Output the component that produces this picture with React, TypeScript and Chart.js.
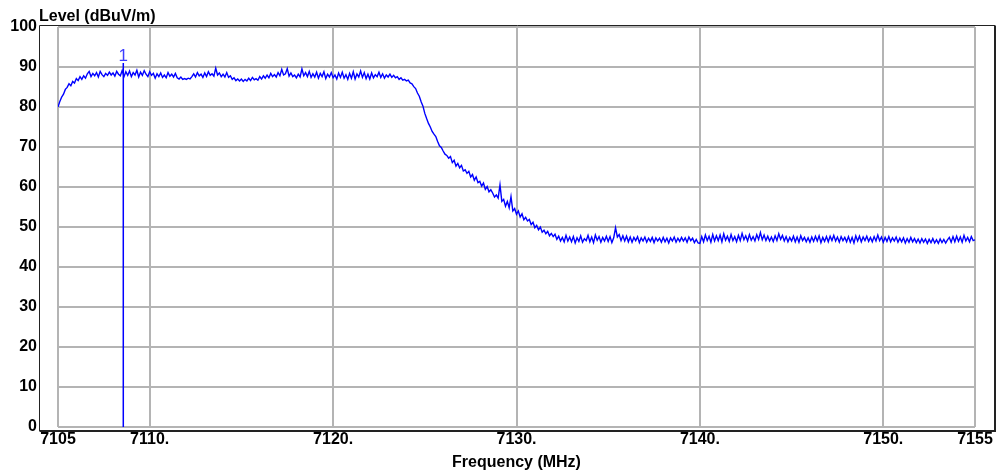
import React, { useEffect, useRef } from "react";
import { Chart, registerables } from "chart.js";

Chart.register(...registerables);

// Sweep definition (MHz)
const FREQ_START = 7105;
const FREQ_STEP = 0.1;

// Measured level (dBuV/m), one value every 0.1 MHz from 7105 to 7155 (one row per MHz)
const LEVELS: number[] = [
  80.0, 81.4, 82.5, 83.2, 84.4, 84.9, 85.8, 85.3, 86.4, 86.0,
  87.1, 86.6, 87.6, 86.9, 87.8, 87.2, 88.3, 88.9, 87.6, 88.4,
  87.8, 88.6, 87.5, 88.9, 88.1, 87.6, 88.4, 87.9, 88.7, 88.0,
  88.5, 87.7, 88.9, 88.2, 87.8, 89.1, 87.6, 88.8, 87.9, 89.0,
  87.6, 88.6, 88.0, 89.2, 87.5, 88.7, 87.9, 89.1, 88.2, 87.6,
  88.8, 87.9, 88.4, 87.2, 88.3, 87.6, 88.5, 87.4, 88.0, 87.3,
  88.6, 87.7, 88.2, 87.5, 88.4, 87.3, 87.0, 87.5, 86.9, 87.1,
  86.9, 87.2, 87.0, 87.6, 88.3, 87.5, 88.6, 87.8, 88.2, 87.4,
  88.5, 87.6, 88.8, 87.9, 88.3, 87.7, 89.7, 88.0, 88.5, 87.6,
  88.2, 87.5, 88.6, 87.4, 87.8, 86.9, 87.3, 86.6, 87.0, 86.5,
  87.0, 86.4, 86.9, 86.5, 87.2, 86.6, 87.4, 86.8, 87.1, 86.7,
  87.6, 87.0, 87.8, 87.2, 88.0, 87.3, 88.4, 87.6, 88.1, 87.5,
  88.6, 87.8, 89.4, 88.0, 88.3, 89.6, 87.7, 88.5, 87.6, 88.0,
  87.3, 88.2, 87.5, 89.5, 87.8, 88.6, 87.6, 88.9, 87.4, 88.3,
  87.5, 88.7, 87.2, 88.4, 87.6, 88.8, 87.1, 88.2, 87.5, 88.6,
  87.3, 88.0, 87.0, 88.5, 87.4, 88.7, 87.2, 88.1, 86.9, 88.4,
  87.2, 88.8, 87.0, 88.3, 87.5, 89.0, 87.4, 88.6, 87.1, 88.2,
  87.0, 88.5, 87.3, 88.1, 87.6, 88.7, 87.4, 88.3, 87.2, 88.0,
  87.5, 88.2, 87.4, 87.9, 87.3, 87.6, 86.9, 87.3, 86.7, 86.9,
  86.5, 86.7, 86.0, 85.8, 85.1, 84.6, 83.5, 82.7, 81.3, 80.2,
  78.4, 77.1, 75.9, 75.0, 73.9, 73.2, 72.6, 71.4, 70.3, 69.9,
  69.0, 68.2, 67.9, 67.2, 67.6, 66.1, 66.7, 65.2, 65.9, 64.8,
  65.4, 64.0, 64.3, 63.4, 63.9, 62.5, 63.1, 61.7, 62.5, 61.1,
  61.4, 60.2, 61.0, 59.4, 60.1, 58.8, 59.3, 58.5, 57.5, 58.0,
  57.2, 60.5, 56.4, 56.9, 55.2, 56.4, 54.8, 57.6, 54.0, 54.6,
  53.2, 54.0, 52.5, 53.3, 51.8, 52.4, 51.5, 51.9, 50.6, 51.2,
  49.8, 50.4, 49.3, 50.0, 48.7, 49.2, 48.3, 48.9, 47.8, 48.4,
  47.6, 48.2, 46.9, 47.7, 46.5, 47.4, 46.3, 47.9, 46.5, 47.5,
  46.3, 47.6, 46.0, 47.3, 46.4, 47.8, 46.2, 47.1, 46.6, 47.9,
  46.3, 47.5, 46.1, 48.0, 46.7, 47.6, 46.2, 47.4, 46.5, 47.7,
  46.4, 47.6, 46.1, 47.3, 49.8, 47.5, 48.1, 46.6, 47.8, 46.5,
  47.7, 46.3, 47.5, 46.2, 47.4, 46.6, 47.6, 46.1, 47.3, 46.5,
  47.5, 46.2, 47.2, 46.4, 47.4, 46.1, 47.3, 46.5, 47.2, 46.2,
  47.4, 46.3, 47.2, 46.0, 47.3, 46.5, 47.5, 46.2, 47.2, 46.4,
  47.4, 46.5, 47.3, 46.2, 47.5, 46.6, 47.2, 46.1, 46.9, 46.0,
  45.9, 47.6, 46.3, 48.0, 46.6, 47.7, 46.2, 48.1, 46.5, 47.8,
  46.6, 48.0, 46.3, 48.3, 46.7, 47.7, 46.4, 48.1, 46.6, 47.6,
  46.3, 47.9, 46.6, 48.4, 46.8, 47.8, 46.5, 48.1, 46.7, 47.6,
  46.5, 48.1, 46.9, 48.6, 46.8, 48.0, 46.6, 47.7, 46.5, 47.5,
  46.4, 47.8, 46.6, 48.3, 46.9, 47.9, 46.5, 47.6, 46.3, 47.4,
  46.5, 47.7, 46.3, 47.5, 46.2, 47.8, 46.6, 47.4, 46.3, 47.3,
  46.2, 47.5, 46.4, 47.7, 46.5, 47.8, 46.1, 47.4, 46.4, 47.6,
  46.3, 47.7, 46.6, 47.9, 46.5, 47.5, 46.2, 47.6, 46.6, 47.4,
  46.3, 47.6, 46.2, 47.4, 46.0, 47.8, 46.5, 47.7, 46.3, 47.5,
  46.6, 47.7, 46.4, 47.4, 46.3, 47.6, 46.5, 48.0, 46.6, 47.5,
  46.2, 47.4, 46.4, 47.6, 46.3, 47.3, 46.5, 47.5, 46.2, 47.2,
  46.3, 47.3, 46.0, 47.1, 46.2, 47.4, 46.3, 47.1, 46.1, 47.0,
  46.0, 47.1, 46.2, 47.0, 45.9, 46.9, 46.1, 47.1, 46.0, 46.8,
  45.9, 47.0, 46.1, 46.9, 46.0, 46.8, 47.4, 46.2, 47.6, 46.3,
  47.7, 46.4, 47.5, 46.2, 47.9, 46.5, 47.4, 46.3, 47.6, 46.6,
  46.8,
];

// Axis ticks
const X_TICK_VALUES = [7105, 7110, 7120, 7130, 7140, 7150, 7155];
const X_TICK_LABELS = ["7105", "7110.", "7120.", "7130.", "7140.", "7150.", "7155"];
const X_MIN = 7105;
const X_MAX = 7155;
const Y_MIN = 0;
const Y_MAX = 100;
const Y_STEP = 10;

// Marker 1
const MARKER_LABEL = "1";
const MARKER_FREQ = 7108.56;
const MARKER_TOP = 91;

const Y_TITLE = "Level (dBuV/m)";
const X_TITLE = "Frequency (MHz)";

const FONT = "'Liberation Sans', Arial, sans-serif";

export default function App() {
  const ref = useRef<HTMLCanvasElement | null>(null);

  useEffect(() => {
    if (!ref.current) return;
    const traceData = LEVELS.map((v, i) => ({ x: FREQ_START + i * FREQ_STEP, y: v }));
    const markerData = [
      { x: MARKER_FREQ, y: Y_MIN },
      { x: MARKER_FREQ, y: MARKER_TOP },
    ];

    const framePlugin = {
      id: "framePlugin",
      afterDraw(chart: any) {
        const { ctx } = chart;
        const xs = chart.scales.x;
        const ys = chart.scales.y;
        ctx.save();
        // outer frame
        ctx.strokeStyle = "#222222";
        ctx.lineWidth = 1;
        ctx.beginPath();
        ctx.moveTo(39.5, 431);
        ctx.lineTo(39.5, 25.5);
        ctx.lineTo(995, 25.5);
        ctx.stroke();
        ctx.lineWidth = 2;
        ctx.beginPath();
        ctx.moveTo(39.5, 431);
        ctx.lineTo(995, 431);
        ctx.lineTo(995, 25.5);
        ctx.stroke();
        // y title
        ctx.fillStyle = "#000000";
        ctx.font = `bold 16px ${FONT}`;
        ctx.textAlign = "left";
        ctx.textBaseline = "alphabetic";
        ctx.fillText(Y_TITLE, 39, 21);
        // marker label
        ctx.fillStyle = "#3c3cff";
        ctx.font = `17px ${FONT}`;
        ctx.textAlign = "center";
        const mx = xs.getPixelForValue(MARKER_FREQ);
        const my = ys.getPixelForValue(MARKER_TOP);
        ctx.fillText(MARKER_LABEL, mx, my - 2);
        ctx.restore();
      },
    };

    const chart = new Chart(ref.current, {
      type: "line",
      data: {
        datasets: [
          {
            data: markerData,
            borderColor: "#0000ff",
            borderWidth: 1.5,
            pointRadius: 0,
            fill: false,
          },
          {
            data: traceData,
            borderColor: "#0000ff",
            borderWidth: 1.4,
            pointRadius: 0,
            tension: 0,
            fill: false,
          },
        ],
      },
      options: {
        animation: false,
        responsive: false,
        maintainAspectRatio: false,
        devicePixelRatio: 1,
        layout: { padding: { top: 27, right: 22, left: 0, bottom: 0 } },
        plugins: {
          legend: { display: false },
          tooltip: { enabled: false },
          title: { display: false },
        },
        scales: {
          x: {
            type: "linear",
            min: X_MIN,
            max: X_MAX,
            afterBuildTicks: (scale: any) => {
              scale.ticks = X_TICK_VALUES.map((v) => ({ value: v }));
            },
            afterFit: (scale: any) => {
              scale.height = 49;
            },
            ticks: {
              autoSkip: false,
              maxRotation: 0,
              padding: 3,
              color: "#000000",
              font: { family: FONT, size: 16, weight: "bold" },
              callback: (v: any) => {
                const idx = X_TICK_VALUES.indexOf(Number(v));
                return idx >= 0 ? X_TICK_LABELS[idx] : "";
              },
            },
            grid: { color: "#b4b4b4", lineWidth: 2, drawTicks: false },
            border: { display: false },
            title: {
              display: true,
              text: X_TITLE,
              color: "#000000",
              font: { family: FONT, size: 16, weight: "bold" },
              padding: { top: 0, bottom: 4 },
            },
          },
          y: {
            type: "linear",
            min: Y_MIN,
            max: Y_MAX,
            afterFit: (scale: any) => {
              scale.width = 58;
              scale.paddingTop = 0;
              scale.paddingBottom = 0;
            },
            ticks: {
              stepSize: Y_STEP,
              padding: 21,
              color: "#000000",
              font: { family: FONT, size: 16, weight: "bold" },
            },
            grid: { color: "#b4b4b4", lineWidth: 2, drawTicks: false },
            border: { display: false },
          },
        },
      },
      plugins: [framePlugin],
    } as any);

    return () => chart.destroy();
  }, []);

  return (
    <div style={{ position: "absolute", left: 0, top: 0, width: 997, height: 476, background: "#ffffff" }}>
      <canvas ref={ref} width={997} height={476} style={{ display: "block" }} />
    </div>
  );
}
